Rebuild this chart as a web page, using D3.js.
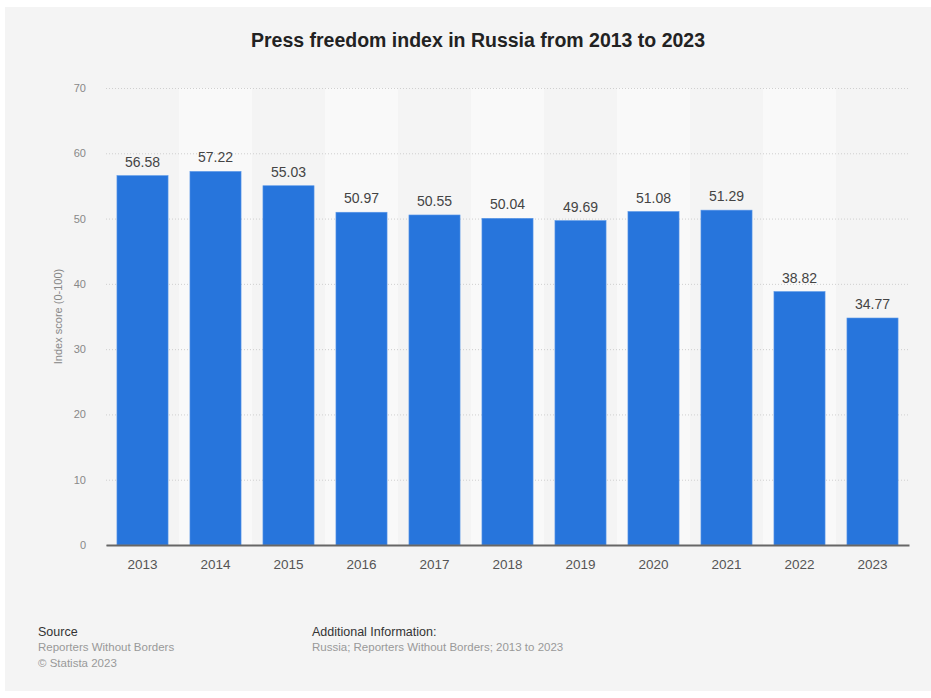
<!DOCTYPE html>
<html>
<head>
<meta charset="utf-8">
<script src="https://cdn.jsdelivr.net/npm/d3@7"></script>
<style>
  html, body { margin: 0; padding: 0; background: #fff; }
  svg { display: block; font-family: "Liberation Sans", Arial, sans-serif; }
</style>
</head>
<body>
<div id="chart"></div>
<script>
const years = ['2013','2014','2015','2016','2017','2018','2019','2020','2021','2022','2023'];
const scores = [56.58, 57.22, 55.03, 50.97, 50.55, 50.04, 49.69, 51.08, 51.29, 38.82, 34.77];
const yTicks = [0, 10, 20, 30, 40, 50, 60, 70];

const W = 931, H = 698;
const margin = { top: 88, right: 22, bottom: 153, left: 106 };
const innerW = W - margin.left - margin.right;
const innerH = H - margin.top - margin.bottom;

const svg = d3.select('#chart').append('svg')
  .attr('width', W).attr('height', H);

// panel background
svg.append('rect')
  .attr('x', 5).attr('y', 7).attr('width', W - 5).attr('height', H - 14)
  .attr('fill', '#f4f4f4');

svg.append('text')
  .attr('x', 478).attr('y', 47)
  .attr('text-anchor', 'middle')
  .attr('font-size', 19.5).attr('font-weight', 'bold')
  .attr('fill', '#222')
  .text('Press freedom index in Russia from 2013 to 2023');

const g = svg.append('g').attr('transform', `translate(${margin.left},${margin.top})`);

const x = d3.scaleBand().domain(years).range([0, innerW]).paddingInner(0.3).paddingOuter(0.15);
const y = d3.scaleLinear().domain([0, 70]).range([innerH, 0]);

// alternating column bands
const step = x.step();
g.selectAll('.band')
  .data(years.filter((d, i) => i % 2 === 1))
  .join('rect')
  .attr('x', d => x(d) - step * x.paddingInner() / 2)
  .attr('y', 0)
  .attr('width', step)
  .attr('height', innerH)
  .attr('fill', '#f9f9f9');

g.append('g')
  .call(d3.axisLeft(y).tickValues(yTicks).tickSize(-innerW).tickPadding(20))
  .call(ax => ax.select('.domain').remove())
  .call(ax => ax.selectAll('.tick line').attr('stroke', '#cfcfcf').attr('stroke-dasharray', '1,2'))
  .call(ax => ax.selectAll('.tick text').attr('fill', '#888').attr('font-size', 11)
    .attr('font-family', '"Liberation Sans", Arial, sans-serif'));

g.selectAll('.bar')
  .data(years)
  .join('rect')
  .attr('x', d => x(d))
  .attr('y', (d, i) => y(scores[i]))
  .attr('width', x.bandwidth())
  .attr('height', (d, i) => innerH - y(scores[i]))
  .attr('fill', '#2775dc')
  .attr('stroke', '#5b98e8')
  .attr('stroke-width', 0.6);

g.selectAll('.val')
  .data(years)
  .join('text')
  .attr('x', d => x(d) + x.bandwidth() / 2)
  .attr('y', (d, i) => y(scores[i]) - 9)
  .attr('text-anchor', 'middle')
  .attr('font-size', 14)
  .attr('fill', '#444')
  .text((d, i) => scores[i].toFixed(2));

g.append('g')
  .attr('transform', `translate(0,${innerH})`)
  .call(d3.axisBottom(x).tickSize(0).tickPadding(14))
  .call(ax => ax.select('.domain').attr('stroke', '#666').attr('stroke-width', 2))
  .call(ax => ax.selectAll('.tick text').attr('fill', '#555').attr('font-size', 13.5)
    .attr('font-family', '"Liberation Sans", Arial, sans-serif'));

svg.append('text')
  .attr('transform', `translate(62,${margin.top + innerH / 2}) rotate(-90)`)
  .attr('text-anchor', 'middle')
  .attr('font-size', 11)
  .attr('fill', '#888')
  .text('Index score (0-100)');

// footer
const foot = svg.append('g').attr('font-size', 11.5);
foot.append('text').attr('x', 38).attr('y', 636).attr('font-size', 12.5).attr('fill', '#333').text('Source');
foot.append('text').attr('x', 38).attr('y', 651).attr('fill', '#999').text('Reporters Without Borders');
foot.append('text').attr('x', 38).attr('y', 667).attr('fill', '#999').text('© Statista 2023');
foot.append('text').attr('x', 312).attr('y', 636).attr('font-size', 12.5).attr('fill', '#333').text('Additional Information:');
foot.append('text').attr('x', 312).attr('y', 651).attr('fill', '#999').text('Russia; Reporters Without Borders; 2013 to 2023');
</script>
</body>
</html>
